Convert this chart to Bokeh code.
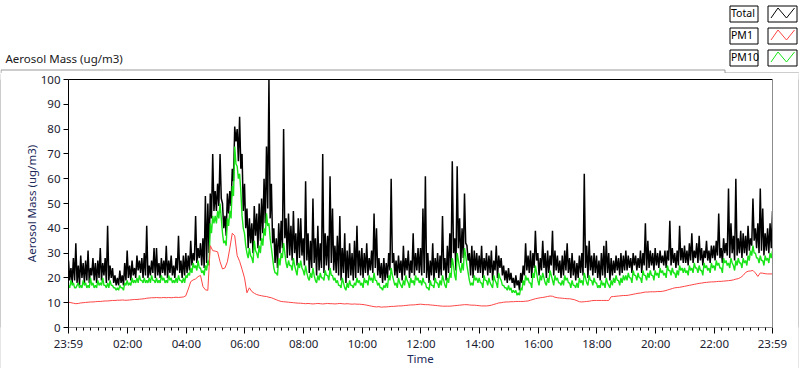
from bokeh.plotting import figure
from bokeh.models import FixedTicker, LinearAxis, Range1d
from bokeh.layouts import column, row
from bokeh.core.properties import value
from bokeh.embed import file_html
from bokeh.resources import INLINE

# ---------------- data (minutes after 23:59) ----------------
# main samples every 5 min; "low"/"mid" samples read half-way between them
t_min = list(range(0, 1441, 5))
t_half = [t + 2.5 for t in t_min[:-1]]

total = [
    27, 24, 28, 34, 25, 29, 26, 27, 31, 24, 28, 26,
    27, 32, 26, 28, 41, 25, 24, 21, 20, 23, 21, 26,
    31, 25, 27, 24, 29, 27, 28, 30, 41, 25, 27, 32,
    32, 26, 28, 27, 33, 27, 29, 25, 28, 37, 27, 29,
    30, 29, 35, 30, 45, 32, 34, 36, 53, 50, 54, 70,
    55, 58, 70, 50, 45, 54, 55, 64, 81, 80, 85, 70,
    58, 48, 44, 42, 49, 46, 50, 52, 60, 73, 100, 58,
    40, 36, 42, 43, 80, 44, 46, 41, 47, 38, 44, 44,
    36, 59, 38, 35, 52, 36, 41, 34, 70, 38, 37, 61,
    48, 33, 37, 45, 32, 38, 31, 34, 30, 35, 41, 31,
    32, 30, 34, 28, 31, 46, 40, 28, 26, 28, 26, 30,
    60, 30, 27, 29, 27, 33, 28, 31, 27, 38, 30, 32,
    32, 48, 61, 30, 27, 34, 28, 30, 29, 45, 28, 33,
    38, 67, 36, 65, 44, 40, 54, 33, 30, 33, 31, 30,
    29, 33, 28, 30, 29, 31, 27, 33, 29, 28, 25, 23,
    24, 22, 20, 21, 19, 22, 25, 34, 29, 31, 30, 39,
    30, 28, 35, 30, 31, 29, 39, 31, 29, 27, 29, 31,
    34, 28, 30, 27, 26, 29, 30, 62, 33, 35, 29, 30,
    29, 27, 30, 33, 35, 30, 28, 27, 29, 28, 30, 29,
    31, 29, 28, 30, 29, 28, 31, 30, 42, 35, 31, 30,
    32, 30, 31, 29, 31, 31, 43, 32, 30, 31, 41, 32,
    33, 31, 34, 38, 31, 34, 37, 32, 31, 35, 31, 33,
    33, 35, 46, 32, 36, 34, 56, 42, 37, 60, 36, 39,
    38, 37, 41, 36, 52, 40, 42, 56, 48, 38, 40, 42,
    47,
]

total_low = [
    19, 18, 19, 18, 17, 20, 18, 19, 18, 21, 19, 18,
    20, 19, 21, 18, 19, 20, 18, 17, 17, 18, 17, 19,
    20, 19, 21, 20, 23, 22, 20, 21, 20, 21, 22, 20,
    21, 20, 22, 21, 20, 22, 21, 20, 23, 22, 20, 21,
    22, 23, 25, 27, 26, 28, 25, 24, 26, 30, 44, 47,
    47, 49, 52, 40, 37, 46, 49, 59, 75, 67, 64, 47,
    40, 32, 34, 30, 37, 32, 35, 38, 42, 48, 44, 34,
    26, 24, 30, 32, 36, 28, 29, 27, 30, 25, 28, 29,
    25, 27, 22, 24, 26, 21, 23, 24, 22, 25, 23, 26,
    23, 22, 21, 19, 22, 18, 20, 21, 19, 20, 22, 21,
    20, 22, 21, 23, 22, 24, 21, 20, 18, 19, 20, 23,
    26, 21, 20, 22, 19, 21, 23, 20, 22, 21, 23, 22,
    21, 22, 20, 18, 21, 19, 22, 20, 21, 23, 19, 22,
    24, 30, 23, 32, 26, 28, 34, 27, 21, 20, 23, 22,
    22, 20, 23, 21, 22, 19, 23, 20, 24, 21, 19, 18,
    19, 18, 16, 17, 15, 18, 21, 23, 22, 20, 24, 27,
    21, 23, 24, 20, 22, 25, 21, 23, 22, 20, 21, 23,
    22, 20, 21, 19, 20, 22, 21, 24, 20, 23, 21, 22,
    20, 19, 21, 20, 22, 19, 21, 22, 23, 21, 22, 23,
    23, 24, 22, 25, 23, 24, 22, 25, 23, 24, 25, 23,
    25, 24, 26, 25, 24, 27, 25, 26, 24, 25, 27, 26,
    26, 25, 27, 26, 28, 26, 27, 25, 28, 27, 26, 28,
    27, 29, 28, 26, 30, 29, 28, 30, 27, 29, 30, 28,
    30, 29, 31, 33, 35, 32, 30, 31, 29, 31, 30, 32,
]

pm10 = [
    17, 19, 18, 16, 18, 17, 19, 18, 17, 20, 18, 17,
    19, 18, 20, 17, 18, 19, 17, 16, 16, 17, 16, 18,
    19, 18, 20, 19, 20, 21, 19, 20, 19, 20, 21, 19,
    20, 19, 21, 20, 19, 21, 20, 19, 20, 21, 19, 20,
    21, 22, 24, 26, 25, 27, 24, 23, 25, 27, 42, 45,
    45, 47, 50, 38, 35, 44, 47, 57, 73, 65, 62, 45,
    38, 30, 32, 28, 35, 30, 33, 36, 40, 46, 42, 32,
    24, 22, 28, 30, 34, 26, 27, 25, 28, 23, 26, 27,
    23, 25, 20, 22, 24, 19, 21, 22, 20, 23, 21, 24,
    21, 20, 19, 17, 20, 16, 18, 19, 17, 18, 20, 19,
    18, 20, 19, 21, 20, 22, 19, 18, 16, 17, 18, 21,
    24, 19, 18, 20, 17, 19, 21, 18, 20, 19, 21, 20,
    19, 20, 18, 16, 19, 17, 20, 18, 19, 21, 17, 20,
    22, 28, 21, 30, 24, 26, 32, 25, 19, 18, 21, 20,
    20, 18, 21, 19, 20, 17, 21, 18, 22, 19, 17, 16,
    17, 16, 15, 15, 14, 16, 19, 21, 20, 18, 22, 25,
    19, 21, 22, 18, 20, 23, 19, 21, 20, 18, 19, 21,
    20, 18, 19, 17, 18, 20, 19, 22, 18, 21, 19, 20,
    18, 17, 19, 18, 20, 17, 19, 20, 21, 19, 20, 21,
    21, 22, 20, 23, 21, 22, 20, 23, 21, 22, 23, 21,
    23, 22, 24, 23, 22, 25, 23, 24, 22, 23, 25, 24,
    24, 23, 25, 24, 26, 24, 25, 23, 26, 25, 24, 26,
    25, 27, 26, 24, 28, 27, 26, 28, 25, 27, 28, 26,
    28, 27, 29, 31, 33, 30, 28, 29, 27, 29, 28, 30,
    31,
]

pm10_mid = [
    16, 17, 16, 17, 16, 16, 17, 16, 16, 17, 16, 16,
    17, 17, 17, 16, 16, 17, 16, 15, 15, 16, 15, 17,
    17, 17, 18, 18, 18, 19, 18, 18, 18, 18, 19, 18,
    18, 18, 19, 18, 18, 19, 18, 18, 18, 19, 18, 18,
    20, 21, 22, 24, 23, 24, 22, 21, 23, 25, 38, 42,
    42, 44, 44, 34, 33, 41, 44, 53, 66, 60, 55, 40,
    33, 28, 29, 26, 31, 28, 30, 33, 37, 41, 36, 28,
    22, 21, 25, 28, 30, 24, 25, 23, 25, 21, 24, 24,
    21, 22, 19, 20, 21, 18, 19, 20, 19, 21, 19, 21,
    19, 18, 17, 16, 18, 15, 16, 17, 16, 17, 18, 17,
    16, 18, 17, 19, 18, 19, 17, 16, 15, 16, 16, 19,
    21, 17, 16, 18, 16, 17, 19, 16, 18, 17, 19, 18,
    17, 18, 16, 15, 17, 16, 18, 16, 17, 19, 16, 18,
    20, 25, 19, 27, 22, 23, 29, 22, 17, 17, 19, 18,
    18, 16, 19, 17, 18, 16, 19, 16, 20, 17, 16, 15,
    15, 14, 14, 13, 13, 15, 17, 19, 18, 16, 20, 22,
    17, 19, 20, 17, 18, 21, 17, 19, 18, 17, 17, 19,
    18, 16, 17, 16, 16, 18, 17, 20, 17, 19, 17, 18,
    16, 16, 17, 16, 18, 16, 17, 18, 19, 17, 18, 19,
    19, 20, 18, 21, 19, 20, 18, 21, 19, 20, 21, 19,
    21, 20, 22, 21, 20, 23, 21, 22, 20, 21, 23, 22,
    22, 21, 23, 22, 24, 22, 23, 21, 24, 23, 22, 24,
    23, 25, 24, 22, 26, 25, 24, 26, 23, 25, 26, 24,
    26, 25, 27, 29, 30, 28, 26, 27, 25, 27, 26, 28,
]

pm1 = [
    10.2, 10.0, 9.8, 9.6, 9.7, 9.9, 10.0, 10.1, 10.2, 10.3, 10.3, 10.4,
    10.5, 10.5, 10.6, 10.7, 10.7, 10.8, 10.9, 10.9, 11.0, 11.0, 11.1, 11.0,
    11.0, 11.1, 11.2, 11.3, 11.3, 11.4, 11.5, 11.6, 11.8, 11.9, 12.0, 12.0,
    12.1, 12.0, 12.0, 12.1, 12.0, 12.1, 12.0, 12.1, 12.2, 12.1, 12.2, 12.3,
    12.8, 15.5, 18.5, 19.2, 19.6, 20.5, 21.0, 16.5, 15.2, 15.0, 33.0, 31.0,
    30.8, 30.5, 26.5, 23.6, 24.0, 26.5, 32.0, 38.0, 37.0, 29.0, 26.7, 23.5,
    20.0, 14.0, 16.0, 14.5, 13.8, 13.3, 13.0, 12.8, 12.6, 12.5, 12.2, 12.0,
    11.6, 11.2, 10.8, 10.5, 10.4, 10.3, 10.2, 10.1, 10.0, 9.9, 9.8, 9.8,
    9.7, 9.6, 9.7, 9.6, 9.5, 9.6, 9.7, 9.6, 9.5, 9.6, 9.7, 9.6,
    9.6, 9.5, 9.6, 9.7, 9.6, 9.5, 9.6, 9.5, 9.4, 9.5, 9.4, 9.4,
    9.3, 9.2, 9.0, 8.8, 8.6, 8.4, 8.3, 8.4, 8.2, 8.3, 8.3, 8.4,
    8.5, 8.5, 8.6, 8.7, 8.7, 8.8, 8.9, 9.0, 9.1, 9.1, 9.2, 9.3,
    9.4, 9.3, 9.2, 9.2, 9.1, 9.0, 8.9, 8.8, 8.7, 8.6, 8.6, 8.6,
    8.6, 8.7, 8.8, 8.9, 9.0, 9.1, 9.2, 9.2, 9.1, 9.0, 9.0, 8.9,
    8.8, 8.7, 8.7, 8.7, 8.8, 9.0, 9.3, 9.6, 9.9, 10.0, 10.2, 10.3,
    10.3, 10.4, 10.4, 10.5, 10.5, 10.5, 10.5, 10.6, 10.7, 11.0, 11.3, 11.6,
    11.8, 12.0, 12.1, 12.3, 12.5, 12.7, 12.6, 12.2, 12.0, 11.9, 11.8, 11.7,
    11.6, 11.6, 11.4, 11.2, 10.8, 10.4, 10.3, 10.4, 10.5, 10.6, 10.8, 10.9,
    10.9, 10.9, 10.9, 10.9, 10.9, 10.9, 12.4, 12.5, 12.6, 12.7, 12.8, 12.9,
    12.9, 13.0, 13.2, 13.4, 13.6, 13.8, 13.9, 14.1, 14.3, 14.3, 14.4, 14.4,
    14.4, 14.5, 14.5, 14.6, 14.8, 15.1, 15.4, 15.7, 16.0, 16.1, 16.2, 16.4,
    16.6, 16.8, 17.0, 17.2, 17.4, 17.6, 17.8, 17.9, 18.1, 18.2, 18.3, 18.4,
    18.4, 18.5, 18.6, 18.6, 18.7, 18.8, 18.9, 19.0, 19.2, 19.5, 19.7, 20.2,
    21.0, 22.2, 22.7, 22.8, 23.0, 22.0, 20.6, 22.0, 21.9, 21.7, 21.6, 21.6,
    21.6,
]

x_tick_pos = [0, 121, 241, 361, 481, 601, 721, 841, 961, 1081, 1201, 1321, 1440]
x_tick_labels = ["23:59", "02:00", "04:00", "06:00", "08:00", "10:00", "12:00",
                 "14:00", "16:00", "18:00", "20:00", "22:00", "23:59"]
y_ticks = list(range(0, 101, 10))
series_names = ["Total", "PM1", "PM10"]
series_colors = ["#000000", "#ff4444", "#18e418"]

FONT = "Noto Sans"
TXT = "#1b1b30"
GREY = "#9a9a9a"


def interleave(ta, a, tb, b):
    ts, vs = [], []
    for i in range(len(ta)):
        ts.append(ta[i]); vs.append(a[i])
        if i < len(tb):
            ts.append(tb[i]); vs.append(b[i])
    return ts, vs


def plain(w, h, **kw):
    f = figure(width=w, height=h, output_backend="svg", toolbar_location=None,
               x_axis_type=None, y_axis_type=None, min_border=0, **kw)
    f.grid.visible = False
    f.outline_line_color = None
    return f


# ---------------- header: title, legend, panel top edge ----------------
HH = 73
head = plain(800, HH, x_range=Range1d(0, 800), y_range=Range1d(HH, 0))
head.background_fill_color = "white"
head.line([0.5, 0.5, 724.5, 724.5, 798.5, 798.5], [HH, 69.5, 69.5, 72.5, 72.5, HH],
          line_color=GREY, line_width=1)
head.text(x=[5], y=[57.5], text=["Aerosol Mass (ug/m3)"], text_font=value(FONT),
          text_font_size="11.5px", text_color="#202020", text_baseline="alphabetic")
box_tops = [5.5, 27.5, 49.5]
head.quad(left=[729.5] * 3, right=[757.5] * 3, top=box_tops, bottom=[b + 16 for b in box_tops],
          fill_color=None, line_color="black")
head.quad(left=[767.5] * 3, right=[796.5] * 3, top=box_tops, bottom=[b + 16 for b in box_tops],
          fill_color=None, line_color="black")
head.text(x=[730.5] * 3, y=[b + 7 for b in box_tops], text=series_names,
          text_font=value(FONT), text_font_size="10.5px", text_color="black",
          text_baseline="alphabetic")
zx = [[770.5, 777.5, 786, 794]] * 3
zy = [[b + 12, b + 2, b + 12, b + 2] for b in box_tops]
head.multi_line(zx, zy, line_color=series_colors, line_width=1)

# ---------------- main chart ----------------
MH = 368 - HH
p = figure(width=797, height=MH, output_backend="svg", toolbar_location=None,
           x_range=Range1d(0, 1440), y_range=Range1d(0, 100),
           x_axis_type=None, y_axis_type=None,
           min_border_left=67, min_border_right=26,
           min_border_top=79 - HH, min_border_bottom=MH - 250 - (79 - HH))
p.grid.visible = False
p.outline_line_color = None

minor = [1 + 15 * k for k in range(97) if all(abs(1 + 15 * k - m) > 3 for m in x_tick_pos)]
xax = LinearAxis(ticker=FixedTicker(ticks=x_tick_pos, minor_ticks=minor))
xax.major_label_overrides = {pos: lab for pos, lab in zip(x_tick_pos, x_tick_labels)}
xax.axis_line_color = "#8c8c8c"
xax.major_tick_line_color = "black"
xax.minor_tick_line_color = "black"
xax.major_tick_out = 6
xax.major_tick_in = 0
xax.minor_tick_out = 3
xax.minor_tick_in = 0
xax.major_label_standoff = 2
xax.major_label_text_font = FONT
xax.major_label_text_font_size = "11.5px"
xax.major_label_text_color = TXT
xax.axis_label = "Time"
xax.axis_label_text_font = FONT
xax.axis_label_text_font_size = "11.5px"
xax.axis_label_text_font_style = "normal"
xax.axis_label_text_color = "#1c2a5a"
xax.axis_label_standoff = -3
p.add_layout(xax, "below")

yax = LinearAxis(ticker=FixedTicker(ticks=y_ticks, minor_ticks=[]))
yax.axis_line_color = "black"
yax.major_tick_line_color = "black"
yax.major_tick_out = 5
yax.major_tick_in = 0
yax.major_label_standoff = 3
yax.major_label_text_font = FONT
yax.major_label_text_font_size = "11.5px"
yax.major_label_text_color = TXT
yax.axis_label = "Aerosol Mass (ug/m3)"
yax.axis_label_text_font = FONT
yax.axis_label_text_font_size = "11.5px"
yax.axis_label_text_font_style = "normal"
yax.axis_label_text_color = "#1c2a5a"
yax.axis_label_standoff = -1
p.add_layout(yax, "left")

for side, col in (("above", "black"), ("right", "#8c8c8c")):
    ax = LinearAxis(ticker=FixedTicker(ticks=[]), axis_line_color=col)
    ax.major_tick_out = 0
    ax.minor_tick_out = 0
    ax.major_label_standoff = 0
    ax.major_label_text_font_size = "0px"
    p.add_layout(ax, side)

tt, tv = interleave(t_min, total, t_half, total_low)
gt, gv = interleave(t_min, pm10, t_half, pm10_mid)
p.line(tt, tv, line_color=series_colors[0], line_width=1.5)
p.line(gt, gv, line_color=series_colors[2], line_width=1.4)
p.line(t_min, pm1, line_color=series_colors[1], line_width=1)


# ---------------- panel side / bottom edges ----------------
def strip(w, h, color):
    s = plain(w, h)
    s.background_fill_color = color
    s.border_fill_color = color
    return s


layout = column(head,
                row(strip(1, MH, GREY), p, strip(1, MH, GREY)),
                strip(799, 1, "black"))

open("out.html", "w").write(file_html(layout, INLINE))
